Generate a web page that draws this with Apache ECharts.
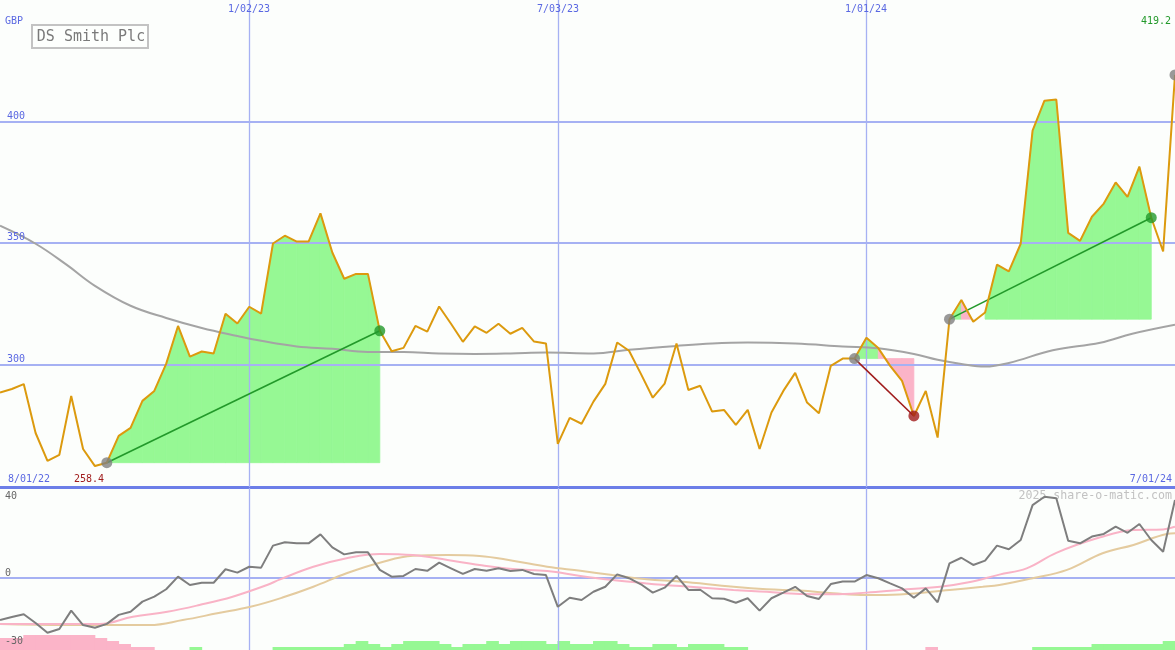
<!DOCTYPE html>
<html><head><meta charset="utf-8">
<script src="https://cdn.jsdelivr.net/npm/echarts@6/dist/echarts.min.js"></script>
<style>html,body{margin:0;padding:0;background:#fcfefc}#c{width:1175px;height:650px}</style>
</head><body><div id="c"></div>
<script>
// ---- data (weekly closes, GBp) ----
const weekCount = 100;
const prices = [288.6,290.1,292.1,272.0,260.5,263.0,287.2,265.4,258.4,259.8,
270.8,274.1,285.2,289.3,300.4,316.0,303.4,305.5,304.7,321.0,
317.0,323.9,321.1,349.9,353.1,350.7,350.7,362.3,346.2,335.4,
337.4,337.4,314.0,305.6,307.0,316.0,313.7,324.0,316.9,309.5,
315.8,313.2,316.9,312.8,315.2,309.6,308.8,267.5,278.2,275.8,
284.9,292.2,309.2,305.8,296.3,286.5,292.3,308.8,289.7,291.4,
280.8,281.5,275.3,281.5,265.4,280.4,289.3,296.7,284.5,280.1,
299.6,302.6,302.6,311.2,306.9,299.6,293.4,279.0,289.3,270.1,
318.8,326.7,317.7,321.5,341.2,338.4,349.8,396.3,408.6,409.1,
354.3,351.0,360.9,366.3,375.0,369.1,381.5,360.5,346.6,419.2];
// long moving average, read at sample weeks [week, value]
const priceMA = [[0,357.2],[3,349.8],[5.6,341.2],[8,332.5],[11,324.3],[14,319.3],[17,315.2],[20,311.9],[22,309.9],[25,307.6],[28,306.6],[31,305.3],[34,305.3],[37,304.7],[40,304.5],[43,304.7],[46,305.1],[50,304.7],[53,306.2],[57,307.8],[60,308.8],[63,309.2],[67,308.8],[71,307.6],[74,306.8],[77,304.5],[79,302.1],[81,300.4],[83,299.3],[85,300.8],[88.7,306.0],[92.7,309.1],[95.4,312.8],[99,316.5]];
const oscillator = [-18.7,-17.3,-16.1,-20.0,-24.3,-22.7,-14.5,-20.9,-22.1,-20.4,
-16.4,-15.0,-10.5,-8.3,-5.0,0.6,-3.1,-2.1,-2.1,3.9,
2.4,5.0,4.6,14.4,15.9,15.4,15.4,19.4,13.6,10.5,
11.4,11.4,3.6,0.6,0.9,4.0,3.2,6.8,4.3,1.8,
4.0,3.2,4.3,3.1,3.6,1.8,1.3,-12.8,-8.8,-9.8,
-6.1,-3.9,1.6,-0.1,-2.8,-6.5,-4.3,0.9,-5.3,-5.2,
-9.0,-9.2,-11.0,-9.0,-14.5,-9.0,-6.5,-3.9,-8.0,-9.3,
-2.7,-1.6,-1.6,1.3,-0.1,-2.4,-4.6,-8.8,-4.6,-10.8,
6.5,9.0,5.8,7.7,14.4,12.8,16.9,32.4,36.1,35.4,
16.6,15.4,18.4,19.6,22.8,20.1,24.0,16.9,11.7,34.7];
const oscFast = [[0,-20.4],[8.4,-20.4],[11.2,-17.2],[14.1,-15.0],[16.8,-12.0],[19.6,-8.3],[22.5,-3.1],[23.6,-0.6],[26.4,5.0],[29.2,8.8],[32,10.7],[34.8,10.2],[37.7,8.0],[40.4,5.8],[43.2,4.0],[46.1,3.1],[48.9,0.9],[51.6,-0.9],[54.5,-2.4],[57.3,-3.6],[61.8,-5.3],[64.6,-6.1],[67.4,-7.1],[70.2,-7.2],[73,-6.5],[75.8,-5.3],[79.2,-3.9],[81.5,-2.0],[84.2,1.5],[86.5,4.3],[89,11.2],[92.7,18.1],[95.5,21.3],[98,21.6],[99,22.8]];
const oscSlow = [[0,-20.4],[5.6,-20.9],[12.6,-20.9],[15.4,-18.7],[18.3,-15.7],[21.1,-12.8],[23.8,-8.7],[26.4,-3.9],[29.2,2.1],[32,6.8],[34.8,9.9],[37.7,10.2],[40.4,9.8],[43.2,7.7],[46.1,5.0],[48.9,3.2],[51.6,1.3],[54.5,-0.6],[57.3,-1.6],[61.8,-3.9],[64.6,-5.0],[67.4,-5.6],[70.2,-6.8],[73,-7.6],[75.8,-7.3],[80,-5.3],[82.8,-3.9],[84.2,-3.1],[87,-0.1],[89.9,3.6],[92.9,11.0],[95.5,14.7],[98.3,19.6],[99,19.9]];
const histogram = [-4,-4,-5,-5,-5,-5,-5,-5,-4,-3,
-2,-1,-1,0,0,0,1,0,0,0,
0,0,0,1,1,1,1,1,1,2,
3,2,1,2,3,3,3,2,1,2,
2,3,2,3,3,3,2,3,2,2,
3,3,2,1,1,2,2,1,2,2,
2,1,1,0,0,0,0,0,0,0,
0,0,0,0,0,0,0,0,-1,0,
0,0,0,0,0,0,0,1,1,1,
1,1,2,2,2,2,2,2,3,0];
const trendSegments = [[9,32],[72,77],[80,97]];
const openSegmentStart = 99;
const dateTickIndex = [21,47,73];
const dateTickLabels = ['1/02/23','7/03/23','1/01/24'];
const startLabel = '8/01/22';
const endLabel = '7/01/24';
const priceTicks = [300,350,400];
const oscTicks = [40,0,-30];
const titleText = 'DS Smith Plc';
const currencyText = 'GBP';
const watermarkText = '2025 share-o-matic.com';

// ---- styles ----
const BLUE = '#5a68e2', GRID = '#a6b1f3', DIVIDER = '#6c7ee8';
const ORANGE = '#dc9a0e', UP = '#22992a', DOWN = '#a01c1c';
const FILL_UP = '#96f894', FILL_DOWN = '#fbb4c8';
const MONO = '"DejaVu Sans Mono", monospace';

const chart = echarts.init(document.getElementById('c'));

const fillItems = [];
trendSegments.forEach(([s, e]) => { for (let i = s; i < e; i++) fillItems.push([i, prices[s]]); });

function hLines(ticks, width) {
  return function (params, api) {
    const cs = params.coordSys;
    const y = Math.round(api.coord([0, api.value(1)])[1]);
    return {type: 'line', shape: {x1: cs.x, y1: y, x2: cs.x + cs.width, y2: y}, style: {stroke: GRID, lineWidth: width}};
  };
}
function vLines(params, api) {
  const cs = params.coordSys;
  const x = Math.round(api.coord([api.value(0), 0])[0]) + 0.5;
  return {type: 'line', shape: {x1: x, y1: cs.y, x2: x, y2: cs.y + cs.height}, style: {stroke: GRID, lineWidth: 1.3}};
}

const dots = [];
trendSegments.forEach(([s, e]) => {
  dots.push({value: [s, prices[s]], itemStyle: {color: '#7f7f7f'}});
  dots.push({value: [e, prices[e]], itemStyle: {color: prices[e] >= prices[s] ? UP : DOWN}});
});
dots.push({value: [openSegmentStart, prices[openSegmentStart]], itemStyle: {color: '#7f7f7f'}});

const ax = (g, extra) => Object.assign({type: 'value', gridIndex: g, min: 0, max: weekCount - 1, show: false}, extra || {});

const option = {
  animation: false,
  backgroundColor: '#fcfefc',
  grid: [
    {left: 0, right: 0, top: 0, height: 487},
    {left: 0, right: 0, top: 488, height: 162},
    {left: 0, right: 0, top: 620, height: 30}
  ],
  xAxis: [
    ax(0, {show: true, axisLine: {onZero: false, lineStyle: {color: DIVIDER, width: 3}}, axisTick: {show: false}, axisLabel: {show: false}, splitLine: {show: false}}),
    ax(1), ax(2)
  ],
  yAxis: [
    {type: 'value', gridIndex: 0, min: 249.8, max: 450, show: false},
    {type: 'value', gridIndex: 1, min: -32, max: 40, show: false},
    {type: 'value', gridIndex: 2, min: 0, max: 10, show: false}
  ],
  series: [
    {type: 'custom', xAxisIndex: 0, yAxisIndex: 0, z: 1, clip: true, data: fillItems,
      renderItem: function (params, api) {
        const i = api.value(0), base = api.value(1);
        const p0 = prices[i], p1 = prices[i + 1];
        let color = null;
        if (p1 < base) color = FILL_DOWN; else if (p0 >= base) color = FILL_UP;
        if (!color) return null;
        return {type: 'polygon', shape: {points: [api.coord([i, base]), api.coord([i, p0]), api.coord([i + 1, p1]), api.coord([i + 1, base])]},
          style: {fill: color, stroke: color, lineWidth: 0.8}};
      }},
    {type: 'custom', xAxisIndex: 0, yAxisIndex: 0, z: 2, data: priceTicks.map(t => [0, t]), renderItem: hLines(priceTicks, 2)},
    {type: 'custom', xAxisIndex: 0, yAxisIndex: 0, z: 2, data: dateTickIndex.map(i => [i, 300]), renderItem: vLines},
    {type: 'line', xAxisIndex: 0, yAxisIndex: 0, z: 3, data: priceMA, smooth: 0.4, showSymbol: false, lineStyle: {color: '#a4a4a4', width: 2}},
    {type: 'custom', xAxisIndex: 0, yAxisIndex: 0, z: 4, data: trendSegments.map(([s, e]) => [s, e]),
      renderItem: function (params, api) {
        const s = api.value(0), e = api.value(1);
        const a = api.coord([s, prices[s]]), b = api.coord([e, prices[e]]);
        return {type: 'line', shape: {x1: a[0], y1: a[1], x2: b[0], y2: b[1]}, style: {stroke: prices[e] >= prices[s] ? UP : DOWN, lineWidth: 1.6}};
      }},
    {type: 'line', xAxisIndex: 0, yAxisIndex: 0, z: 5, data: prices.map((v, i) => [i, v]), showSymbol: false, lineStyle: {color: ORANGE, width: 2}},
    {type: 'scatter', xAxisIndex: 0, yAxisIndex: 0, z: 6, symbolSize: 11, data: dots},

    {type: 'custom', xAxisIndex: 2, yAxisIndex: 2, z: 1, data: histogram.map((v, i) => [i, v]),
      renderItem: function (params, api) {
        const i = api.value(0), v = api.value(1);
        if (!v) return null;
        const a = api.coord([i, 0]), b = api.coord([i + 1, Math.abs(v)]);
        const c = v > 0 ? FILL_UP : FILL_DOWN;
        return {type: 'rect', shape: {x: a[0] - 0.4, y: b[1], width: b[0] - a[0] + 0.8, height: a[1] - b[1]}, style: {fill: c}};
      }},
    {type: 'custom', xAxisIndex: 1, yAxisIndex: 1, z: 2, data: [[0, 0]], renderItem: hLines([0], 2)},
    {type: 'custom', xAxisIndex: 1, yAxisIndex: 1, z: 2, data: dateTickIndex.map(i => [i, 0]), renderItem: vLines},
    {type: 'line', xAxisIndex: 1, yAxisIndex: 1, z: 3, data: oscSlow, smooth: 0.4, showSymbol: false, lineStyle: {color: '#e4cb9f', width: 2}},
    {type: 'line', xAxisIndex: 1, yAxisIndex: 1, z: 3, data: oscFast, smooth: 0.4, showSymbol: false, lineStyle: {color: '#f9b3c6', width: 2}},
    {type: 'line', xAxisIndex: 1, yAxisIndex: 1, z: 4, data: oscillator.map((v, i) => [i, v]), showSymbol: false, lineStyle: {color: '#7e7e7e', width: 2}}
  ]
};
chart.setOption(option);

// ---- text labels placed through the axes' scales ----
const toPx = (g, x, y) => chart.convertToPixel({xAxisIndex: g, yAxisIndex: g}, [x, y]);
const txt = (x, y, text, fill, align, valign, size, z) => ({type: 'text', x: x, y: y, z: z == null ? 100 : z,
  style: {text: text, fill: fill, font: (size || 10) + 'px ' + MONO, align: align || 'left', verticalAlign: valign || 'middle'}});
const g = [];
dateTickIndex.forEach((i, k) => g.push(txt(Math.round(toPx(0, i, 300)[0]), 9, dateTickLabels[k], BLUE, 'center')));
priceTicks.forEach(t => g.push(txt(7, Math.round(toPx(0, 0, t)[1]) - 6, String(t), BLUE)));
g.push(txt(5, 21, currencyText, BLUE));
const minIdx = prices.indexOf(Math.min(...prices));
const maxIdx = prices.indexOf(Math.max(...prices));
g.push(txt(8, 479, startLabel, BLUE));
g.push(txt(1172, 479, endLabel, BLUE, 'right'));
g.push(txt(Math.round(toPx(0, minIdx, 0)[0]) - 6, 479, prices[minIdx].toFixed(1), DOWN, 'center'));
g.push(txt(1171, 21, prices[maxIdx].toFixed(1), UP, 'right'));
oscTicks.forEach(t => {
  const y = Math.round(toPx(1, 0, t)[1]);
  if (t === oscTicks[0]) g.push(txt(5, y + 8, String(t), '#666', 'left'));
  else g.push(txt(5, y - 5, String(t), '#666', 'left'));
});
g.push(txt(1172, 496, watermarkText, '#c2c2c2', 'right', 'middle', 11.6, 0));
g.push({type: 'rect', z: 100, shape: {x: 32, y: 25, width: 116, height: 23}, style: {fill: '#fdfffd', stroke: '#c3c3c3', lineWidth: 2}});
g.push(Object.assign(txt(91, 37, titleText, '#7a7a7a', 'center', 'middle', 15), {z: 101}));
chart.setOption({graphic: g});
</script></body></html>
